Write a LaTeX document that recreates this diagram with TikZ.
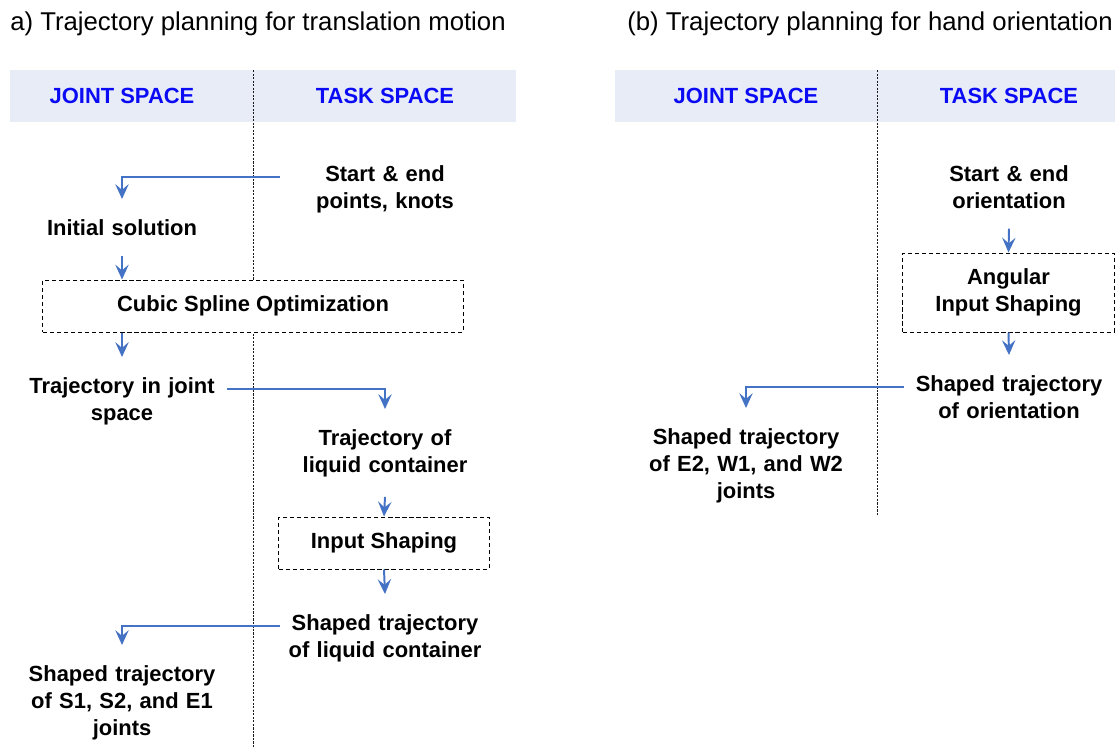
\documentclass[tikz,border=0pt]{standalone}
\usepackage{fontspec}
\setmainfont{Liberation Sans}
\usetikzlibrary{arrows.meta, positioning}
\definecolor{hdrfill}{RGB}{231,236,246}
\definecolor{hdrblue}{RGB}{10,10,245}
\definecolor{arrblue}{RGB}{68,114,196}
\tikzstyle{arrow}     = [line width=1.4pt, arrblue, -{Stealth[length=10.5pt,width=9.5pt,inset=4pt]}]
\tikzstyle{txt}       = [font=\bfseries\fontsize{15.6}{19.2}\selectfont, align=center, text width=5.25cm, inner xsep=0pt, inner ysep=14.2pt, anchor=north]
\tikzstyle{dashbox}   = [draw, fill=white, line width=0.7pt, dash pattern=on 3pt off 2pt, font=\bfseries\fontsize{15.6}{19.2}\selectfont, align=center, inner sep=0pt]
\tikzstyle{header}    = [font=\bfseries\fontsize{15.6}{19.2}\selectfont, text=hdrblue]
\tikzstyle{divider}   = [line width=0.7pt, black!90, dash pattern=on 1.5pt off 1pt]
\tikzstyle{title}     = [font=\fontsize{18.3}{22}\selectfont, anchor=base west, inner sep=0pt]

\begin{document}
\begin{tikzpicture}[x=0.025cm, y=-0.025cm]
\useasboundingbox (0,0) rectangle (1115,749);

% (a) translation
\node[title] (TA) at (10,31) {a) Trajectory planning for translation motion};
\fill[hdrfill] (10,70) rectangle (516,122);
\draw[divider] (253,70) -- (253,747);
\node[header] (JA) at (122,96) {JOINT SPACE};
\node[header] (KA) at (385,96) {TASK SPACE};

\node[txt] (start)  at (385,145) {Start \& end\\points, knots};
\node[txt] (init)   at (122,199) {Initial solution};
\node[dashbox, minimum width=10.5cm, minimum height=1.3cm] (spline) at (253,306) {Cubic Spline Optimization};
\node[txt] (traj)   at (122,357) {Trajectory in joint\\space};
\node[txt] (liquid) at (385,409) {Trajectory of\\liquid container};
\node[dashbox, minimum width=5.25cm, minimum height=1.3cm] (shaping) at (384,543) {Input Shaping};
\node[txt] (shliq)  at (385,594) {Shaped trajectory\\of liquid container};
\node[txt] (jointsA) at (122,645) {Shaped trajectory\\of S1, S2, and E1\\joints};

\draw[arrow] (start.mid west) -| (init.north);
\draw[arrow] (init.south) -- (init.south |- spline.north);
\draw[arrow] (traj.north |- spline.south) -- (traj.north);
\draw[arrow] (traj.mid east) -| (liquid.north);
\draw[arrow] (liquid.south) -- (shaping.north);
\draw[arrow] (shaping.south) -- (shliq.north);
\draw[arrow] (shliq.mid west) -| (jointsA.north);

% (b) orientation
\node[title] (TB) at (627,31) {(b) Trajectory planning for hand orientation};
\fill[hdrfill] (615,70) rectangle (1115,122);
\draw[divider] (877,70) -- (877,515);
\node[header] (JB) at (746,96) {JOINT SPACE};
\node[header] (KB) at (1009,96) {TASK SPACE};

\node[txt] (startori) at (1009,145) {Start \& end\\orientation};
\node[dashbox, minimum width=5.275cm, minimum height=1.975cm] (angular) at (1008.5,292.5) {Angular\\Input Shaping};
\node[txt] (shori)   at (1009,355) {Shaped trajectory\\of orientation};
\node[txt] (jointsB) at (746,408) {Shaped trajectory\\of E2, W1, and W2\\joints};

\draw[arrow] (startori.south) -- (angular.north);
\draw[arrow] (angular.south) -- (shori.north);
\draw[arrow] (shori.mid west) -| (jointsB.north);

\end{tikzpicture}
\end{document}
